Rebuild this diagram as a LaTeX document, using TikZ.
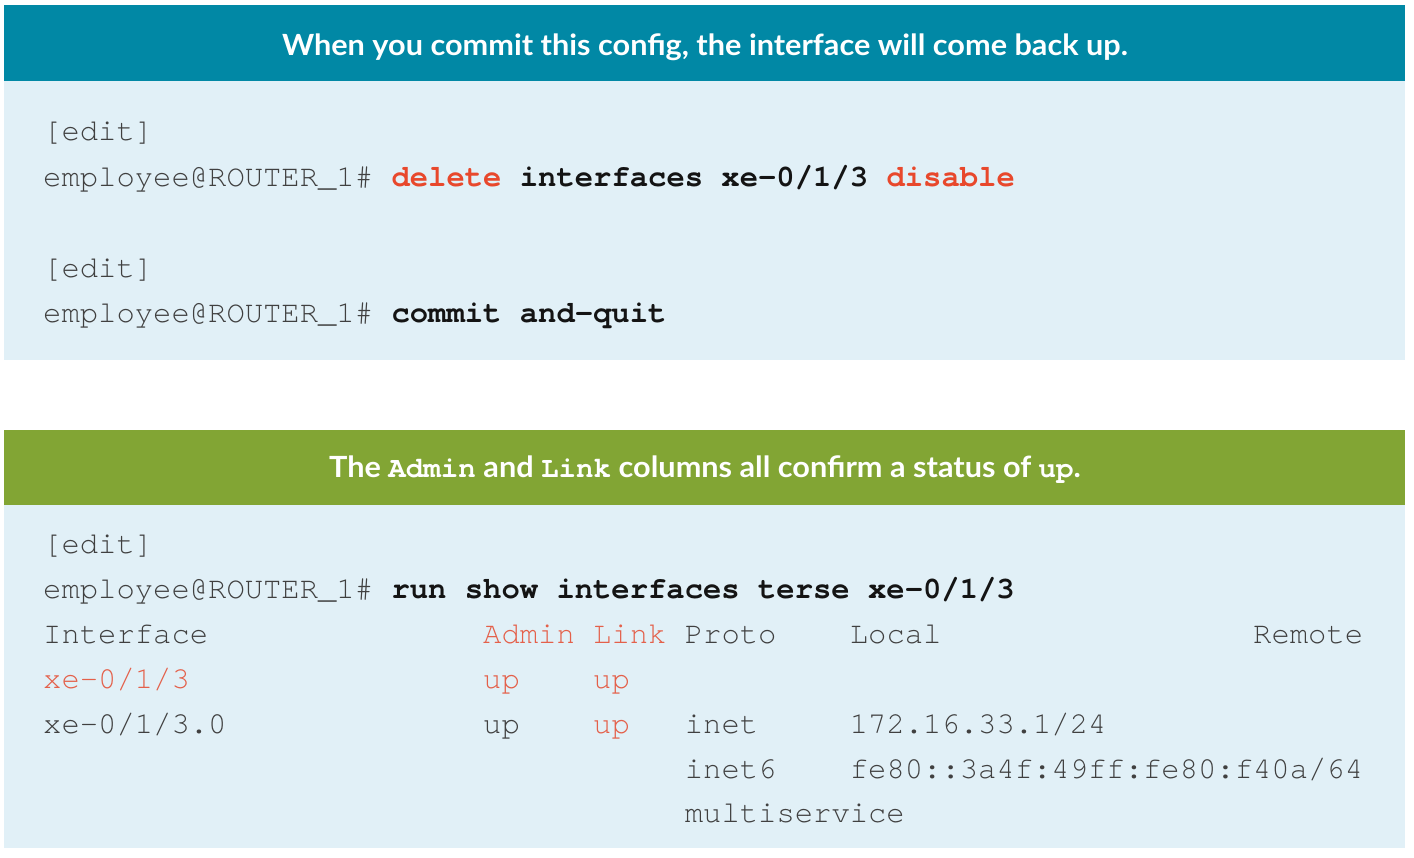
\documentclass[tikz,border=0pt]{standalone}
\usepackage{fontspec}
\setmainfont{Lato}[FakeStretch=1.05]
\newfontfamily\mono{texgyrecursor}[Extension=.otf, UprightFont=*-regular, BoldFont=*-bold, Ligatures={NoCommon,TeXOff}]
\definecolor{hteal}{HTML}{0188A5}
\definecolor{hgreen}{HTML}{82A534}
\definecolor{bodyblue}{HTML}{E1F0F7}
\definecolor{prompt}{HTML}{404040}
\definecolor{cmd}{HTML}{141414}
\definecolor{hot}{HTML}{E8482C}
\definecolor{soft}{HTML}{E4604A}
\tikzset{
  band/.style={inner sep=0pt, outer sep=0pt, minimum width=1401pt, anchor=north west},
  htext/.style={inner sep=0pt, anchor=base, text=white, font=\fontsize{29.2}{34}\selectfont\bfseries},
  code/.style={inner sep=0pt, anchor=base west, text=prompt, font=\fontsize{30.55}{36}\selectfont\mono},
  bcode/.style={code, text=cmd, font=\fontsize{30.55}{36}\selectfont\mono\bfseries},
  hcode/.style={code, text=hot, font=\fontsize{30.55}{36}\selectfont\mono\bfseries},
  scode/.style={code, text=soft},
}
\newcommand{\cx}[1]{43+#1*18.333}
\begin{document}
\begin{tikzpicture}[x=1pt,y=-1pt]
\useasboundingbox (0,0) rectangle (1414,858);
\fill[white] (0,0) rectangle (1414,858);
% top panel
\node (h1) [band, fill=hteal, minimum height=76pt] at (4,5) {};
\node (b1) [band, fill=bodyblue, minimum height=279pt] at (4,81) {};
\node (h1t) [htext] at (705,56) {When you commit this config, the interface will come back up.};
\node (l1) [code] at ({\cx{0}},141) {[edit]};
\node (l2a) [code] at ({\cx{0}},187) {employee@ROUTER\_1\#};
\node (l2b) [hcode] at ({\cx{19}},187) {delete};
\node (l2c) [bcode] at ({\cx{26}},187) {interfaces xe-0/1/3};
\node (l2d) [hcode] at ({\cx{46}},187) {disable};
\node (l3) [code] at ({\cx{0}},278) {[edit]};
\node (l4a) [code] at ({\cx{0}},323) {employee@ROUTER\_1\#};
\node (l4b) [bcode] at ({\cx{19}},323) {commit and-quit};
% bottom panel
\node (h2) [band, fill=hgreen, minimum height=75pt] at (4,430) {};
\node (b2) [band, fill=bodyblue, minimum height=343pt] at (4,505) {};
\node (h2t) [htext] at (705,477) {The {\mono Admin} and {\mono Link} columns all confirm a status of {\mono up}.};
\node (m1) [code] at ({\cx{0}},553) {[edit]};
\node (m2a) [code] at ({\cx{0}},598) {employee@ROUTER\_1\#};
\node (m2b) [bcode] at ({\cx{19}},598) {run show interfaces terse xe-0/1/3};
\node (m3a) [code] at ({\cx{0}},643) {Interface};
\node (m3b) [scode] at ({\cx{24}},643) {Admin Link};
\node (m3c) [code] at ({\cx{35}},643) {Proto};
\node (m3d) [code] at ({\cx{44}},643) {Local};
\node (m3e) [code] at ({\cx{66}},643) {Remote};
\node (m4a) [scode] at ({\cx{0}},688) {xe-0/1/3};
\node (m4b) [scode] at ({\cx{24}},688) {up};
\node (m4c) [scode] at ({\cx{30}},688) {up};
\node (m5a) [code] at ({\cx{0}},733) {xe-0/1/3.0};
\node (m5b) [code] at ({\cx{24}},733) {up};
\node (m5c) [scode] at ({\cx{30}},733) {up};
\node (m5d) [code] at ({\cx{35}},733) {inet};
\node (m5e) [code] at ({\cx{44}},733) {172.16.33.1/24};
\node (m6a) [code] at ({\cx{35}},778) {inet6};
\node (m6b) [code] at ({\cx{44}},778) {fe80::3a4f:49ff:fe80:f40a/64};
\node (m7) [code] at ({\cx{35}},822) {multiservice};
\end{tikzpicture}
\end{document}
